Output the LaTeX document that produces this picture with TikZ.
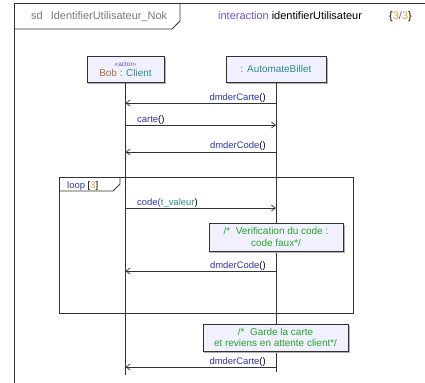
\documentclass[tikz,border=0pt]{standalone}
\usepackage{fontspec}
\setmainfont{Liberation Sans}
\usetikzlibrary{arrows.meta,shadows}
\definecolor{boxfill}{RGB}{240,240,255}
\definecolor{linec}{RGB}{50,50,50}
\definecolor{msgblue}{RGB}{48,52,168}
\definecolor{tealc}{RGB}{40,140,140}
\definecolor{brownc}{RGB}{170,110,60}
\definecolor{notegreen}{RGB}{40,165,40}
\definecolor{orangec}{RGB}{230,160,30}
\definecolor{purplec}{RGB}{110,80,210}
\definecolor{grayc}{RGB}{120,120,120}
\begin{document}
\begin{tikzpicture}[x=1bp,y=-1bp,
  font=\fontsize{9.5}{11}\selectfont,
  headbox/.style={draw=linec,fill=boxfill,line width=0.8bp,
    drop shadow={shadow xshift=1.5bp,shadow yshift=-1.5bp,fill=gray!60,opacity=1},
    inner sep=0pt,align=center,font=\fontsize{10}{11}\selectfont},
  notebox/.style={draw=linec,fill=boxfill,line width=0.8bp,
    drop shadow={shadow xshift=1.5bp,shadow yshift=-1.5bp,fill=gray!60,opacity=1},
    inner sep=0pt,align=center,text=notegreen,font=\fontsize{10}{11.5}\selectfont},
  life/.style={draw=linec,line width=0.8bp},
  msg/.style={draw=linec,line width=0.8bp,-{Straight Barb[length=4bp,width=6bp,line width=0.7bp]}},
  lbl/.style={inner sep=0pt,anchor=base},
  hdr/.style={inner sep=0pt,font=\fontsize{11}{12}\selectfont},
  frame/.style={draw=linec,line width=0.8bp}
]
\useasboundingbox (0,0) rectangle (425,383);
% outer frame
\draw[frame] (14,383) -- (14,3) -- (425,3);
\draw[frame] (14,29) -- (172,29) -- (180,21) -- (180,3);
\node[hdr,anchor=base west,text=grayc] (sd) at (31,19) {sd\hspace{8bp}IdentifierUtilisateur\_Nok};
\node[hdr,anchor=base west] (inter) at (218,19) {\textcolor{purplec}{interaction} identifierUtilisateur};
\node[hdr,anchor=base west] (pg) at (389,19) {\{\textcolor{orangec}{3}\textcolor{purplec}{/}\textcolor{orangec}{3}\}};

% lifeline heads
\node[headbox,minimum width=77bp,minimum height=26bp] (bob) at (125.5,69)
  {{\fontsize{6.5}{7}\selectfont\textcolor{purplec}{<<actor>>}}\\[-1bp]\textcolor{brownc}{Bob} \textcolor{tealc}{: Client}};
\node[headbox,minimum width=100bp,minimum height=26bp] (aut) at (276,69)
  {\textcolor{tealc}{: AutomateBillet}};

% lifeline ends
\coordinate (bobend) at (bob.south |- 0,375);
\coordinate (autend) at (aut.south |- 0,372);

% loop frame
\draw[frame] (59,177) rectangle (353,313);
\draw[frame] (59,191) -- (113,191) -- (120,184) -- (120,177);
\node[lbl,anchor=base west] (loop) at (67,188) {\textcolor{msgblue}{loop} [\textcolor{orangec}{3}]};

% lifelines
\draw[life] (bob.south) -- (bobend);
\draw[life] (aut.south) -- (autend);

% message points
\foreach \n/\y in {1/103,2/125,3/152,4/208,5/271,6/367}{
  \coordinate (b\n) at (bob.south |- 0,\y);
  \coordinate (a\n) at (aut.south |- 0,\y);
}

\draw[msg] (a1) -- (b1);
\node[lbl,anchor=base east] (m1) at (266,100) {\textcolor{msgblue}{dmderCarte}()};
\draw[msg] (b2) -- (a2);
\node[lbl,anchor=base west] (m2) at (137,122) {\textcolor{msgblue}{carte}()};
\draw[msg] (a3) -- (b3);
\node[lbl,anchor=base east] (m3) at (266,148) {\textcolor{msgblue}{dmderCode}()};

\draw[msg] (b4) -- (a4);
\node[lbl,anchor=base west] (m4) at (137,205) {\textcolor{msgblue}{code(}\textcolor{tealc}{t\_valeur})};

\node[notebox,minimum width=134bp,minimum height=28bp] (n1) at (276,237)
  {/*\ \ Verification du code :\\code faux*/};

\draw[msg] (a5) -- (b5);
\node[lbl,anchor=base east] (m5) at (266,268) {\textcolor{msgblue}{dmderCode}()};

\node[notebox,minimum width=145bp,minimum height=27bp] (n2) at (275.5,337.5)
  {/*\ \ Garde la carte\\et reviens en attente client*/};

\draw[msg] (a6) -- (b6);
\node[lbl,anchor=base east] (m6) at (266,364) {\textcolor{msgblue}{dmderCarte}()};
\end{tikzpicture}
\end{document}
